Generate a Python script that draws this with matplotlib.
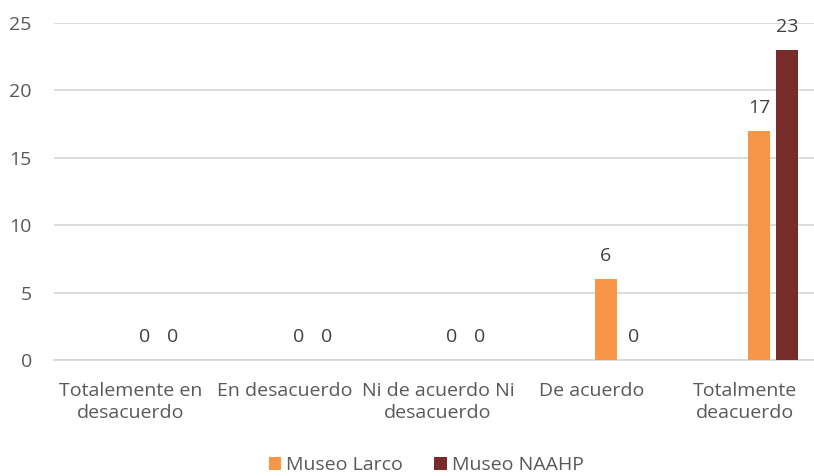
import numpy as np
import matplotlib.pyplot as plt

plt.rcParams['font.family'] = ['Open Sans', 'DejaVu Sans']

# Data
categories = ['Totalemente en\ndesacuerdo', 'En desacuerdo', 'Ni de acuerdo Ni\ndesacuerdo',
              'De acuerdo', 'Totalmente\ndeacuerdo']
series_names = ['Museo Larco', 'Museo NAAHP']
larco = [0, 0, 0, 6, 17]
naahp = [0, 0, 0, 0, 23]
colors = ['#F79646', '#772C2A']

fig = plt.figure(figsize=(8.14, 4.76), dpi=100)
ax = fig.add_axes([54 / 814, 1 - 360 / 476, 768 / 814, 337 / 476])

x = np.arange(len(categories))
width = 0.143
pitch = 0.182
# the two series sit in the 3rd and 4th slots of a 4-slot group
offsets = [0.5 * pitch, 1.5 * pitch]

for vals, off, col, name in zip([larco, naahp], offsets, colors, series_names):
    bars = ax.bar(x + off, vals, width, color=col, label=name, zorder=3)
    for b, v in zip(bars, vals):
        ax.annotate(str(v), (b.get_x() + b.get_width() / 2, v),
                    xytext=(0, 16.5), textcoords='offset points',
                    ha='center', va='center', fontsize=14, color='#404040')

ax.set_xlim(-0.5, 4.5)
ax.set_ylim(0, 25)
ax.set_yticks([0, 5, 10, 15, 20, 25])
ax.set_xticks(x)
ax.set_xticklabels(categories, fontsize=14, color='#595959', linespacing=1.3)
ax.tick_params(axis='y', length=0, pad=16, labelsize=14, labelcolor='#595959')
ax.tick_params(axis='x', length=0, pad=16)

ax.grid(axis='y', color='#D9D9D9', linewidth=1.3, zorder=0)
for s in ['top', 'right', 'left']:
    ax.spines[s].set_visible(False)
ax.spines['bottom'].set_color('#D9D9D9')
ax.spines['bottom'].set_linewidth(1.3)

fig.legend(loc='center', bbox_to_anchor=(426 / 814, 1 - 465 / 476), ncol=2, frameon=False,
           fontsize=14, labelcolor='#595959', handlelength=0.65, handleheight=0.65,
           handletextpad=0.25, columnspacing=1.6)

fig.savefig('out.png', dpi=100)
